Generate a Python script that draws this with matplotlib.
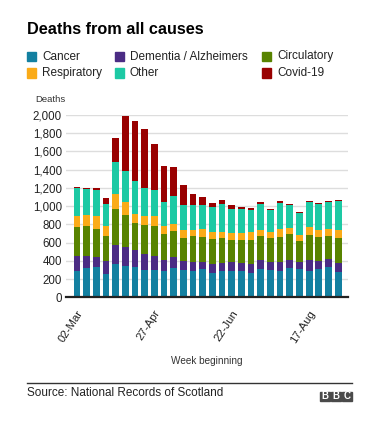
import matplotlib
matplotlib.use("Agg")
import matplotlib.pyplot as plt
import matplotlib.transforms as mtransforms
from matplotlib.patches import Rectangle
import numpy as np

plt.rcParams['font.family'] = ['Liberation Sans', 'DejaVu Sans']

# Weekly deaths in Scotland by cause
weeks = ['02-Mar', '09-Mar', '16-Mar', '23-Mar', '30-Mar', '06-Apr', '13-Apr',
         '20-Apr', '27-Apr', '04-May', '11-May', '18-May', '25-May', '01-Jun',
         '08-Jun', '15-Jun', '22-Jun', '29-Jun', '06-Jul', '13-Jul', '20-Jul',
         '27-Jul', '03-Aug', '10-Aug', '17-Aug', '24-Aug', '31-Aug', '07-Sep']
cancer = [290, 318, 329, 260, 370, 340, 329, 296, 304, 289, 322, 296, 285, 307,
          271, 289, 293, 289, 271, 311, 296, 289, 322, 307, 293, 315, 337, 275]
dementia = [160, 132, 118, 143, 205, 209, 194, 180, 153, 121, 121, 107, 103, 77,
            99, 88, 95, 84, 91, 99, 92, 95, 88, 81, 113, 88, 80, 98]
circulatory = [319, 333, 300, 270, 391, 355, 297, 318, 330, 289, 282, 252, 282, 282,
               270, 271, 245, 260, 271, 260, 267, 275, 282, 227, 275, 259, 256, 275]
respiratory = [124, 121, 142, 114, 165, 139, 99, 103, 106, 88, 84, 81, 69, 88,
               74, 69, 77, 73, 81, 69, 66, 95, 73, 69, 88, 77, 77, 91]
other = [307, 289, 293, 238, 351, 348, 355, 303, 285, 260, 304, 278, 275, 260,
         274, 304, 264, 268, 249, 289, 234, 285, 245, 238, 274, 286, 297, 315]
covid = [15, 11, 18, 62, 267, 593, 655, 648, 506, 391, 314, 219, 121, 84,
         51, 51, 40, 18, 18, 15, 15, 15, 11, 11, 11, 11, 11, 11]

series = [cancer, dementia, circulatory, respiratory, other, covid]
names = ['Cancer', 'Dementia / Alzheimers', 'Circulatory', 'Respiratory', 'Other', 'Covid-19']
colors = ['#1380A1', '#4B2C84', '#588300', '#FAAB18', '#1DC9A4', '#990000']

W, H = 379, 422
fig = plt.figure(figsize=(W / 100, H / 100), dpi=100)

def fx(px):
    return px / W

def fy(py):
    return 1 - py / H

# plot area in pixels: x 66..348, y 115..297
ax = fig.add_axes([fx(66), fy(297.3), fx(348) - fx(66), fy(115) - fy(297.3)])

x = np.arange(len(weeks))
bottom = np.zeros(len(weeks))
for vals, c in zip(series, colors):
    ax.bar(x, vals, 0.7, bottom=bottom, color=c, zorder=3)
    bottom += np.array(vals)

ax.set_xlim(-1.14, 28.02)
ax.set_ylim(0, 2000)
ax.set_yticks(np.arange(0, 2001, 200))
ax.set_yticklabels(['{:,}'.format(v) for v in range(0, 2001, 200)])
ax.grid(axis='y', color='#dddddd', lw=1, zorder=0)
for s in ['top', 'right', 'left']:
    ax.spines[s].set_visible(False)
ax.spines['bottom'].set_color('#222222')
ax.spines['bottom'].set_linewidth(1.6)
ax.spines['bottom'].set_zorder(4)
ax.tick_params(axis='y', length=0, pad=3, labelsize=8.3, labelcolor='#222222')
ax.tick_params(axis='x', length=0, pad=8, labelsize=8.2, labelcolor='#222222')

tick_idx = [0, 8, 16, 24]
ax.set_xticks(tick_idx)
ax.set_xticklabels([weeks[i] for i in tick_idx], rotation=57, ha='right')
offset = mtransforms.ScaledTranslation(8 / 100, 0, fig.dpi_scale_trans)
for lab in ax.get_xticklabels():
    lab.set_transform(lab.get_transform() + offset)

# titles and labels
fig.text(fx(27), fy(34.3), 'Deaths from all causes', fontsize=11.7, fontweight='bold',
         va='baseline', ha='left', color='#000000')
fig.text(fx(35), fy(99.5), 'Deaths', fontsize=6.8, va='center', ha='left', color='#333333')
fig.text(fx(207), fy(361), 'Week beginning', fontsize=7.2, va='center', ha='center', color='#333333')

# legend, drawn by hand
leg_cols = [(27, 42), (115, 130), (262, 277)]
leg_rows = [56.5, 73]
for k, (name, c) in enumerate(zip(names, colors)):
    col, row = k % 3, k // 3
    sx, tx = leg_cols[col]
    yy = leg_rows[row]
    fig.patches.append(Rectangle((fx(sx), fy(yy + 4.5)), fx(9), 9 / H, color=c,
                                 transform=fig.transFigure, figure=fig))
    fig.text(fx(tx), fy(yy), name, fontsize=8.5, va='center', ha='left', color='#222222')

# footer
fig.add_artist(plt.Line2D([fx(27), fx(352)], [fy(383), fy(383)], color='#333333', lw=1,
                          transform=fig.transFigure))
fig.text(fx(27), fy(393), 'Source: National Records of Scotland', fontsize=8.5,
         va='center', ha='left', color='#222222')
for i, letter in enumerate('BBC'):
    bx = 320 + i * 11
    fig.patches.append(Rectangle((fx(bx), fy(401)), fx(10), 9 / H, color='#4a4a4a',
                                 transform=fig.transFigure, figure=fig))
    fig.text(fx(bx + 5), fy(396.3), letter, fontsize=7, fontweight='bold',
             color='white', ha='center', va='center')

fig.savefig('out.png', dpi=100)
